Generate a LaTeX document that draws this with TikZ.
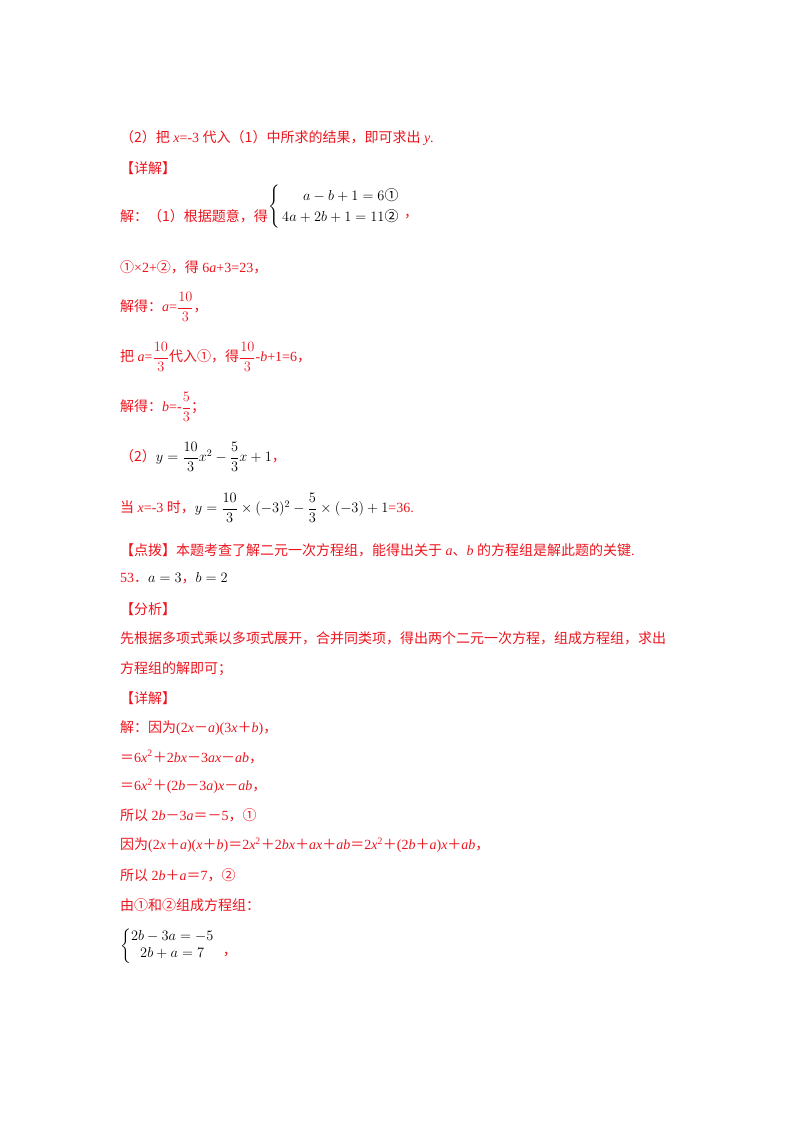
\documentclass[tikz,border=0pt]{standalone}
\usepackage{amsmath}
\usepackage{fontspec}
\setmainfont{Liberation Serif}
\newfontfamily\cjk{Noto Sans CJK SC}
\newcommand{\zh}[1]{{\cjk #1}}
\newcommand{\FP}{{\cjk ＋}}
\newcommand{\FM}{{\cjk －}}
\newcommand{\FE}{{\cjk ＝}}
\definecolor{tred}{RGB}{235,20,30}
\tikzset{ln/.style={anchor=west,inner sep=0pt,font=\fontsize{14}{16}\selectfont,text=tred},
 bk/.style={anchor=west,inner sep=0pt,font=\fontsize{14}{16}\selectfont,text=black}}
\begin{document}
\begin{tikzpicture}[x=1pt,y=-1pt]
\useasboundingbox (0,0) rectangle (800,1132);
\node[ln] (l1) at (120,138) {\zh{（2）把} \textit{x}=-3 \zh{代入（1）中所求的结果，即可求出} \textit{y}.};
\node[ln] (l2) at (120,168) {\zh{【详解】}};
\node[ln] (l3) at (120,216) {\zh{解：（1）根据题意，得}};
\node[bk] (s1) at (268,207) {\renewcommand{\arraystretch}{1.3}$\left\{\begin{array}{@{\,}r@{}}a-b+1=6\text{\zh{①}}\\4a+2b+1=11\text{\zh{②}}\end{array}\right.$};
\node[ln] (s1c) at (s1.east) [anchor=west,xshift=4pt,yshift=-10pt] {\zh{，}};
\node[ln] (l4) at (120,267) {\zh{①}×2+\zh{②}\zh{，得} 6\textit{a}+3=23\zh{，}};
\node[ln] (l5) at (120,307) {\zh{解得：}\textit{a}=$\dfrac{10}{3}$\zh{，}};
\node[ln] (l6) at (120,357) {\zh{把} \textit{a}=$\dfrac{10}{3}$\zh{代入①，得}$\dfrac{10}{3}$-\textit{b}+1=6\zh{，}};
\node[ln] (l7) at (120,407) {\zh{解得：}\textit{b}=-$\dfrac{5}{3}$\zh{；}};
\node[ln] (l8) at (120,457) {\zh{（2）}\textcolor{black}{$y=\dfrac{10}{3}x^2-\dfrac{5}{3}x+1$}\zh{，}};
\node[ln] (l9) at (120,508) {\zh{当} \textit{x}=-3 \zh{时，}\textcolor{black}{$y=\dfrac{10}{3}\times(-3)^2-\dfrac{5}{3}\times(-3)+1$}=36.};
\node[ln] (l10) at (120,550) {\zh{【点拨】本题考查了解二元一次方程组，能得出关于} \textit{a}\zh{、}\textit{b} \zh{的方程组是解此题的关键}.};
\node[ln] (l11) at (120,578) {53\zh{．}\textcolor{black}{$a=3$}\zh{，}\textcolor{black}{$b=2$}};
\node[ln] (l12) at (120,609) {\zh{【分析】}};
\node[ln] (l13) at (120,638) {\zh{先根据多项式乘以多项式展开，合并同类项，得出两个二元一次方程，组成方程组，求出}};
\node[ln] (l14) at (120,669) {\zh{方程组的解即可；}};
\node[ln] (l15) at (120,698) {\zh{【详解】}};
\node[ln] (l16) at (120,728) {\zh{解：因为}(2\textit{x}\FM\textit{a})(3\textit{x}\FP\textit{b})\zh{，}};
\node[ln] (l17) at (120,757) {\FE 6\textit{x}\textsuperscript{2}\FP 2\textit{bx}\FM 3\textit{ax}\FM\textit{ab}\zh{，}};
\node[ln] (l18) at (120,786) {\FE 6\textit{x}\textsuperscript{2}\FP(2\textit{b}\FM 3\textit{a})\textit{x}\FM\textit{ab}\zh{，}};
\node[ln] (l19) at (120,815) {\zh{所以} 2\textit{b}\FM 3\textit{a}\FE\FM 5\zh{，①}};
\node[ln] (l20) at (120,845) {\zh{因为}(2\textit{x}\FP\textit{a})(\textit{x}\FP\textit{b})\FE 2\textit{x}\textsuperscript{2}\FP 2\textit{bx}\FP\textit{ax}\FP\textit{ab}\FE 2\textit{x}\textsuperscript{2}\FP(2\textit{b}\FP\textit{a})\textit{x}\FP\textit{ab}\zh{，}};
\node[ln] (l21) at (120,875) {\zh{所以} 2\textit{b}\FP\textit{a}\FE 7\zh{，②}};
\node[ln] (l22) at (120,905) {\zh{由①和②组成方程组：}};
\node[bk] (s2) at (120,946) {\renewcommand{\arraystretch}{1.05}$\left\{\begin{array}{@{}c@{}}2b-3a=-5\\2b+a=7\end{array}\right.$};
\node[ln] (s2c) at (s2.east) [anchor=west,xshift=8pt,yshift=-9pt] {\zh{，}};
\end{tikzpicture}
\end{document}
